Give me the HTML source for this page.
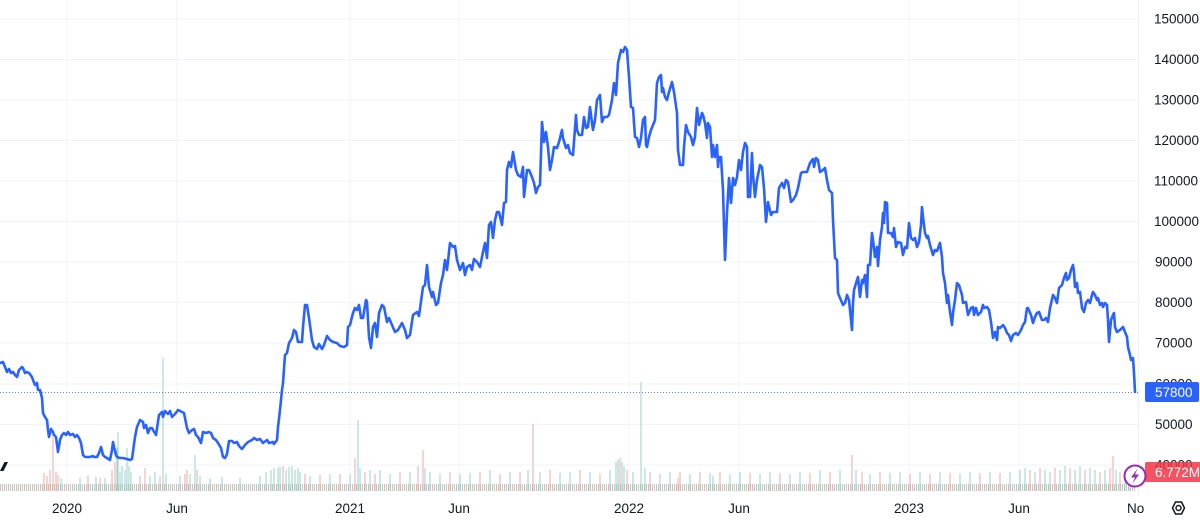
<!DOCTYPE html>
<html><head><meta charset="utf-8"><style>
html,body{margin:0;padding:0;background:#fff;}
body{width:1200px;height:521px;overflow:hidden;}
svg{display:block;}
text{font-family:"Liberation Sans",sans-serif;}
</style></head><body>
<svg width="1200" height="521" viewBox="0 0 1200 521" xmlns="http://www.w3.org/2000/svg">
<defs>
<pattern id="vb" width="4" height="10" patternUnits="userSpaceOnUse">
<rect x="0" y="0" width="1" height="10" fill="#efb0b0"/>
<rect x="2" y="0" width="1" height="10" fill="#a3d8cf"/>
</pattern>
<clipPath id="pc"><rect x="0" y="0" width="1138" height="521"/></clipPath>
<clipPath id="ac"><rect x="0" y="0" width="1144" height="521"/></clipPath>
</defs>
<rect width="1200" height="521" fill="#fff"/>
<!-- horizontal grid -->
<g stroke="#f0f3fa" stroke-width="1">
<line x1="0" y1="19" x2="1138" y2="19"/>
<line x1="0" y1="59.5" x2="1138" y2="59.5"/>
<line x1="0" y1="100" x2="1138" y2="100"/>
<line x1="0" y1="140.5" x2="1138" y2="140.5"/>
<line x1="0" y1="181" x2="1138" y2="181"/>
<line x1="0" y1="221.5" x2="1138" y2="221.5"/>
<line x1="0" y1="262" x2="1138" y2="262"/>
<line x1="0" y1="302.5" x2="1138" y2="302.5"/>
<line x1="0" y1="343" x2="1138" y2="343"/>
<line x1="0" y1="384" x2="1138" y2="384"/>
<line x1="0" y1="424.5" x2="1138" y2="424.5"/>
<line x1="0" y1="465" x2="1138" y2="465"/>
</g>
<!-- vertical grid -->
<g stroke="#f0f3fa" stroke-width="1">
<line x1="67" y1="0" x2="67" y2="492"/>
<line x1="177" y1="0" x2="177" y2="492"/>
<line x1="350" y1="0" x2="350" y2="492"/>
<line x1="459" y1="0" x2="459" y2="492"/>
<line x1="629" y1="0" x2="629" y2="492"/>
<line x1="739" y1="0" x2="739" y2="492"/>
<line x1="909" y1="0" x2="909" y2="492"/>
<line x1="1019" y1="0" x2="1019" y2="492"/>
</g>
<line x1="1138.5" y1="0" x2="1138.5" y2="495" stroke="#eef0f4" stroke-width="1"/>
<!-- volume -->
<g clip-path="url(#pc)">
<rect x="0" y="484" width="1135" height="7" fill="url(#vb)"/>
<path stroke="#efa9a9" stroke-width="1" fill="none" d="M44 491V473M47 491V476M50 491V470M53 491V437M56 491V472M58 491V475M88 491V476M100 491V478M112 491V470M115 491V462M140 491V476M145 491V468M160 491V476M185 491V474M187 491V470M197 491V470M283 491V466M305 491V474M320 491V475M340 491V474M355 491V458M365 491V472M375 491V474M400 491V472M418 491V466M423 491V450M450 491V472M480 491V472M500 491V474M520 491V472M533 491V424M550 491V470M580 491V470M600 491V474M620 491V458M627 491V470M650 491V472M680 491V472M678 491V478M700 491V472M720 491V472M750 491V473M780 491V473M810 491V473M830 491V472M852 491V455M862 491V472M880 491V472M910 491V474M930 491V474M950 491V473M980 491V473M1000 491V473M1030 491V470M1040 491V468M1055 491V468M1070 491V468M1085 491V470M1100 491V472M1110 491V468M1113 491V456M1120 491V472"/>
<path stroke="#95d2c8" stroke-width="1" fill="none" d="M61 491V478M80 491V478M96 491V477M105 491V478M117 491V448M118 491V432M120 491V472M122 491V466M125 491V470M127 491V448M129 491V466M131 491V472M150 491V476M155 491V472M163 491V358M166 491V474M180 491V476M190 491V474M195 491V455M200 491V476M210 491V478M222 491V477M240 491V478M260 491V476M266 491V472M271 491V470M274 491V468M278 491V468M280 491V467M286 491V470M289 491V467M292 491V466M295 491V470M298 491V468M300 491V472M310 491V476M330 491V474M350 491V474M358 491V420M360 491V468M370 491V470M380 491V470M390 491V474M410 491V472M425 491V468M430 491V472M440 491V474M460 491V474M470 491V473M490 491V470M510 491V472M528 491V470M540 491V472M560 491V473M570 491V472M590 491V472M610 491V470M616 491V462M618 491V460M622 491V462M624 491V466M633 491V472M641 491V382M645 491V468M660 491V474M670 491V472M690 491V474M710 491V473M713 491V476M730 491V474M740 491V472M760 491V474M770 491V472M790 491V474M800 491V472M820 491V470M840 491V470M856 491V470M870 491V474M890 491V473M900 491V472M920 491V472M940 491V472M960 491V474M970 491V472M990 491V472M1010 491V472M1020 491V470M1025 491V468M1035 491V472M1045 491V470M1050 491V472M1060 491V470M1065 491V466M1075 491V470M1080 491V466M1090 491V468M1095 491V470M1105 491V470M1116 491V470M1125 491V470M1130 491V472"/>
</g>
<!-- last price dotted line -->
<line x1="0" y1="392.5" x2="1138" y2="392.5" stroke="#5b7fd9" stroke-width="1" stroke-dasharray="1 2"/>
<!-- price line -->
<polyline fill="none" stroke="#2962ff" stroke-width="2.6" stroke-linejoin="round" stroke-linecap="round" points="0,363 3,362 5,367 7,372 9,369 11,373 13,372 15,375 17,377 19,370 22,367 23,368 25,373 27,372 29,373 32,377 33,380 35,385 37,383 38,390 40,390 42,398 43,413 45,417 47,420 48,430 49,437 51,429 53,432 54,435 56,437 58,452 60,440 62,435 64,433 66,435 68,432 70,435 73,434 75,437 77,435 79,438 81,443 83,455 85,457 87,457 90,457 93,456 94,457 97,457 99,453 101,447 103,455 105,457 107,458 110,460 112,450 113,442 114,447 116,455 117,457 120,458 123,458 127,459 130,460 132,459 135,437 137,427 140,420 143,422 144,428 146,425 148,433 150,428 152,428 153,430 156,435 159,415 162,412 163,417 165,411 168,414 170,411 172,417 175,414 178,410 182,412 184,413 187,428 189,433 192,430 194,429 196,435 198,437 201,443 203,432 206,433 209,432 211,433 213,438 216,440 218,443 221,448 223,457 225,458 227,454 229,441 232,441 234,443 237,442 239,446 242,449 245,445 248,442 252,440 254,438 257,440 260,439 263,443 267,440 269,443 273,442 274,444 277,440 278,427 280,410 282,390 283,383 285,355 287,353 289,343 292,338 294,330 296,332 298,342 302,342 303,327 305,305 307,305 309,318 312,340 314,347 317,349 319,344 322,349 324,345 327,336 330,340 333,342 337,343 340,346 344,347 347,345 348,327 350,325 353,313 355,308 357,310 359,305 361,318 363,318 366,300 367,302 369,337 371,348 373,327 375,323 377,337 379,313 382,305 384,307 387,322 389,318 392,325 395,332 398,330 402,323 405,330 407,338 410,335 413,315 417,312 419,316 423,287 425,285 427,265 429,287 432,297 433,292 436,305 438,303 441,283 443,275 445,260 447,270 450,243 453,247 455,246 457,260 460,270 463,263 465,275 467,267 470,265 472,270 474,259 477,262 480,267 483,252 485,243 487,258 489,225 491,222 493,238 495,220 497,212 499,212 502,225 504,203 506,202 507,170 509,162 511,167 513,152 516,170 518,175 521,177 523,167 524,197 527,170 529,170 532,177 534,183 536,193 538,187 540,185 542,122 544,142 546,132 548,147 550,170 552,160 554,147 557,148 559,142 562,130 563,138 566,148 568,145 570,153 573,155 576,115 577,130 579,135 582,135 584,117 586,128 588,127 590,107 592,123 593,130 595,120 597,100 600,95 602,122 604,117 607,117 609,115 612,100 614,83 616,95 618,63 621,50 623,52 625,47 627,50 629,77 631,107 633,108 635,137 637,138 639,147 641,138 643,120 645,117 646,145 647,147 649,137 651,130 653,125 655,120 657,83 659,77 661,75 662,92 663,88 665,97 667,100 669,92 672,82 674,92 677,113 678,150 680,165 683,165 684,147 686,125 688,132 691,137 693,145 695,137 697,108 699,125 702,113 703,115 705,123 707,138 708,123 710,127 712,157 713,145 715,157 717,145 718,167 719,157 721,157 723,190 725,260 727,213 729,178 731,203 733,178 735,185 737,177 739,160 741,170 743,152 745,143 747,147 748,197 750,197 752,153 753,175 755,197 757,180 758,175 760,165 762,167 764,188 766,222 768,202 771,215 773,212 777,212 779,188 782,183 784,188 786,180 788,182 791,202 793,200 796,195 798,188 801,173 803,172 807,172 810,163 813,159 814,167 816,158 818,160 820,172 823,170 825,168 827,180 829,190 832,193 833,220 835,258 837,260 838,293 840,298 843,305 845,303 847,295 849,300 852,330 853,303 854,290 857,280 858,277 860,297 862,280 863,283 865,275 867,297 868,265 870,265 872,233 873,240 875,257 877,247 878,266 880,240 882,227 883,213 884,223 885,202 887,203 888,233 891,233 893,237 894,228 896,247 898,242 901,243 903,255 905,247 907,248 909,223 911,238 913,240 915,238 917,247 919,242 921,225 922,207 923,217 925,233 927,238 928,236 930,245 933,255 935,250 937,251 940,243 942,257 943,273 945,283 947,303 948,295 950,312 952,325 953,313 955,300 957,283 959,285 962,295 963,303 966,302 968,315 971,308 973,307 974,315 976,308 978,315 981,312 983,305 984,308 987,307 989,310 991,322 993,338 995,332 997,340 998,327 1000,328 1003,325 1005,328 1007,333 1009,335 1011,341 1013,335 1016,333 1018,335 1021,330 1023,325 1025,322 1027,308 1028,308 1031,315 1033,323 1035,317 1037,313 1039,312 1042,320 1044,320 1046,318 1048,322 1050,308 1053,295 1055,298 1057,303 1059,288 1062,285 1064,278 1066,273 1067,280 1069,278 1071,270 1073,265 1074,272 1075,287 1077,283 1078,293 1080,292 1082,308 1084,312 1086,303 1088,300 1090,303 1092,295 1093,292 1095,295 1097,300 1098,298 1100,305 1102,303 1103,307 1105,303 1107,305 1108,320 1109,342 1111,320 1113,315 1114,313 1115,327 1117,332 1120,330 1123,327 1125,332 1127,337 1128,347 1130,355 1131,360 1133,358 1134,373 1135,392"/>
<!-- TV logo fragment -->
<polygon points="0,471 3.5,471 8,462 4.5,462" fill="#131722"/>
<!-- right axis labels -->
<g font-size="13.5" fill="#131722">
<text x="1154" y="23.5">150000</text>
<text x="1154" y="64">140000</text>
<text x="1154" y="104.5">130000</text>
<text x="1154" y="145">120000</text>
<text x="1154" y="185.5">110000</text>
<text x="1154" y="226">100000</text>
<text x="1155" y="266.5">90000</text>
<text x="1155" y="307">80000</text>
<text x="1155" y="347.5">70000</text>
<text x="1155" y="388.5">60000</text>
<text x="1155" y="429">50000</text>
<text x="1155" y="469.5">40000</text>
</g>
<!-- last price label -->
<rect x="1145" y="382" width="54" height="20" rx="2" fill="#2962ff"/>
<text x="1155" y="397" font-size="13.5" fill="#fff">57800</text>
<!-- volume label -->
<rect x="1145" y="462" width="56" height="20" rx="2" fill="#f23645" opacity="0.85"/>
<text x="1155" y="477" font-size="13.5" fill="#fff">6.772M</text>
<!-- lightning icon -->
<circle cx="1135" cy="476" r="10.5" fill="#fff" stroke="#9c27b0" stroke-width="2"/>
<path d="M1137.5 468.5 L1131 477.5 L1135 477.5 L1132.5 483.5 L1139 474.5 L1135 474.5 Z" fill="#9c27b0"/>
<!-- time axis labels -->
<g font-size="13.5" fill="#131722" text-anchor="middle" clip-path="url(#ac)">
<text x="67" y="513">2020</text>
<text x="177" y="513">Jun</text>
<text x="350" y="513">2021</text>
<text x="459" y="513">Jun</text>
<text x="629" y="513">2022</text>
<text x="739" y="513">Jun</text>
<text x="909" y="513">2023</text>
<text x="1019" y="513">Jun</text>
<text x="1139" y="513">Nov</text>
</g>
<!-- settings hexagon -->
<polygon points="1172.5,508 1175.5,502 1181.5,502 1184.5,508 1181.5,514 1175.5,514" fill="none" stroke="#131722" stroke-width="1.5" stroke-linejoin="round"/>
<circle cx="1178.5" cy="508" r="2.5" fill="none" stroke="#131722" stroke-width="1.4"/>
</svg>
</body></html>
